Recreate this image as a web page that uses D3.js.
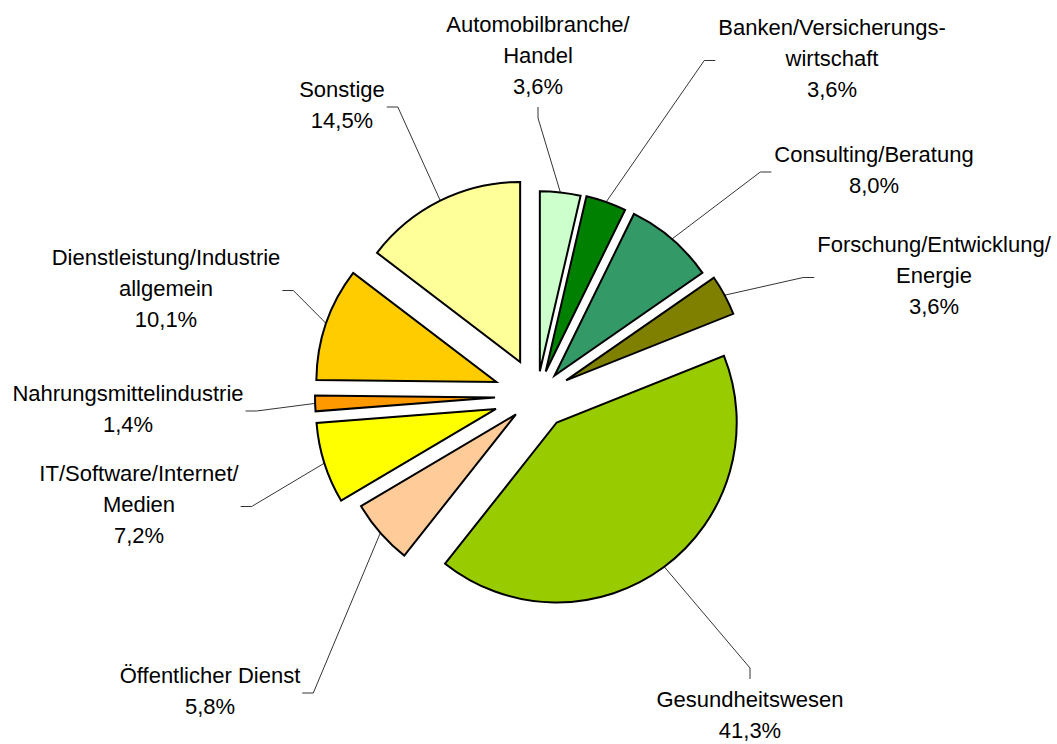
<!DOCTYPE html>
<html>
<head>
<meta charset="utf-8">
<script src="https://cdn.jsdelivr.net/npm/d3@7"></script>
<style>
  body { margin: 0; background: #fff; }
  svg { display: block; }
</style>
</head>
<body>
<svg width="1057" height="744"></svg>
<script>
// Branchen (im Uhrzeigersinn ab 12 Uhr)
var categories = [
    "Automobilbranche/\nHandel",
    "Banken/Versicherungs-\nwirtschaft",
    "Consulting/Beratung",
    "Forschung/Entwicklung/\nEnergie",
    "Gesundheitswesen",
    "Öffentlicher Dienst",
    "IT/Software/Internet/\nMedien",
    "Nahrungsmittelindustrie",
    "Dienstleistung/Industrie\nallgemein",
    "Sonstige"
];
// Anteile in %
var values = [3.6, 3.6, 8.0, 3.6, 41.3, 5.8, 7.2, 1.4, 10.1, 14.5];
var colors = ["#CCFFCC", "#008000", "#339966", "#808000", "#99CC00",
              "#FFCC99", "#FFFF00", "#FF9900", "#FFCC00", "#FFFF99"];

// Layout
var cx = 537, cy = 396, R = 180;
var explode = [25, 26, 27, 33, 33, 28, 43, 42, 43, 38];       // Abstand vom Mittelpunkt
var labelAt = [[538, 32], [832, 35], [874, 162], [934, 252], [750, 707],
               [210, 683], [139, 481], [128, 401], [166, 265], [342, 97]]; // Mitte x, erste Grundlinie
var stubV = [true, false, false, false, true, false, false, false, false, false];
var lineH = 31;

var fmt = function(v){ return d3.format(".1f")(v).replace(".", ",") + "%"; };

var svg = d3.select("svg")
    .style("font-family", "'Liberation Sans', Arial, sans-serif");

var pie = d3.pie().sort(null).value(function(d){ return d; });
var arcs = pie(values);
var arc = d3.arc().innerRadius(0).outerRadius(R);
var edge = d3.arc().innerRadius(R).outerRadius(R);

function offset(d, i){
    var a = (d.startAngle + d.endAngle) / 2;
    return [cx + explode[i] * Math.sin(a), cy - explode[i] * Math.cos(a)];
}

// Labels zuerst (für Breiten)
var labels = svg.append("g").selectAll("text")
    .data(arcs)
    .enter()
    .append("text")
    .attr("text-anchor", "middle")
    .attr("font-size", "22px")
    .attr("fill", "#000");
labels.each(function(d, i){
    var lines = categories[i].split("\n").concat([fmt(values[i])]);
    var t = d3.select(this);
    lines.forEach(function(s, k){
        t.append("tspan")
            .attr("x", labelAt[i][0])
            .attr("y", labelAt[i][1] + k * lineH)
            .text(s);
    });
});

// Führungslinien
var leaders = [];
labels.each(function(d, i){
    var n = d3.select(this).selectAll("tspan").size();
    var w = 0;
    d3.select(this).selectAll("tspan").each(function(){
        w = Math.max(w, this.getComputedTextLength());
    });
    var lx = labelAt[i][0], b1 = labelAt[i][1];
    var top = b1 - 16, bottom = b1 + (n - 1) * lineH + 5, mid = (top + bottom) / 2;
    var o = offset(d, i);
    var e = edge.centroid(d);
    var p = [o[0] + e[0], o[1] + e[1]];
    var s0, s1;
    if (stubV[i]) {
        if (b1 < cy) { s0 = [lx, bottom + 8]; s1 = [lx, bottom + 19]; }
        else { s0 = [lx, top - 12]; s1 = [lx, top - 23]; }
    } else if (lx < p[0]) {
        s0 = [lx + w / 2 + 2, mid]; s1 = [lx + w / 2 + 13, mid];
    } else {
        s0 = [lx - w / 2 - 3, mid]; s1 = [lx - w / 2 - 14, mid];
    }
    leaders.push([s0, s1, p]);
});

svg.append("g").selectAll("polyline")
    .data(leaders)
    .enter()
    .append("polyline")
    .attr("points", function(d){ return d.map(function(q){ return q.join(","); }).join(" "); })
    .attr("fill", "none")
    .attr("stroke", "#000")
    .attr("stroke-width", 0.8);

// Tortenstücke
svg.append("g").selectAll("path")
    .data(arcs)
    .enter()
    .append("path")
    .attr("transform", function(d, i){ return "translate(" + offset(d, i).join(",") + ")"; })
    .attr("d", arc)
    .attr("fill", function(d, i){ return colors[i]; })
    .attr("stroke", "#000")
    .attr("stroke-width", 2)
    .attr("stroke-linejoin", "miter");
</script>
</body>
</html>
